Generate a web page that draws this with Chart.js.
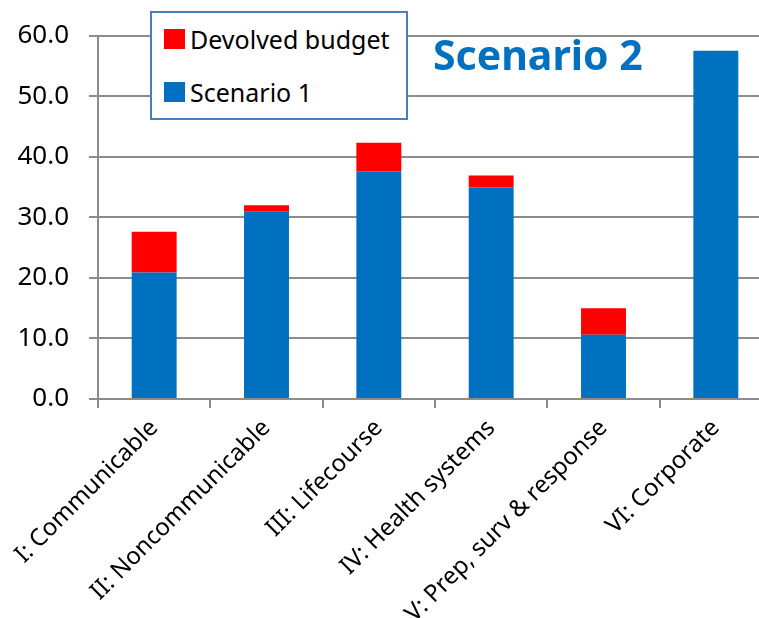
<!DOCTYPE html>
<html>
<head>
<meta charset="utf-8">
<script src="https://cdn.jsdelivr.net/npm/chart.js@4/dist/chart.umd.min.js"></script>
<style>
  html, body { margin: 0; padding: 0; background: #fff; overflow: hidden; }
  #wrap { position: relative; width: 772px; height: 618px; }
  #legend {
    position: absolute; left: 150px; top: 11px; width: 254px; height: 105px;
    border: 2px solid #4a7ebb; background: #fff;
    font-family: 'Noto Sans', sans-serif; font-size: 25px; color: #000;
  }
  .item { position: absolute; left: 12px; display: flex; align-items: center; }
  .swatch { width: 21px; height: 20px; margin-right: 5px; }
  #title {
    position: absolute; left: 433px; top: 34px; line-height: 1;
    font-family: 'Noto Sans', sans-serif; font-weight: bold; font-size: 41px; color: #0070c0;
  }
</style>
</head>
<body>
<div id="wrap">
  <canvas id="chart" width="772" height="618"></canvas>
  <div id="legend"></div>
  <div id="title">Scenario 2</div>
</div>
<script>
const categories = ['I: Communicable', 'II: Noncommunicable', 'III: Lifecourse', 'IV: Health systems', 'V: Prep, surv & response', 'VI: Corporate'];
const scenario1 = [20.9, 30.9, 37.6, 34.9, 10.6, 57.5];
const devolved = [6.7, 1.1, 4.7, 2.0, 4.4, 0];
const yTicks = [0, 10, 20, 30, 40, 50, 60];

const gridColor = '#8c8c8c';
const font = "'Noto Sans', sans-serif";

const ctx = document.getElementById('chart').getContext('2d');
const chart = new Chart(ctx, {
  type: 'bar',
  data: {
    labels: categories,
    datasets: [
      { label: 'Scenario 1', data: scenario1, backgroundColor: '#0070c0' },
      { label: 'Devolved budget', data: devolved, backgroundColor: '#ff0000' }
    ]
  },
  options: {
    responsive: false,
    animation: false,
    categoryPercentage: 1,
    barPercentage: 0.4,
    layout: { padding: { top: 35, right: 0, bottom: 0, left: 0 } },
    scales: {
      x: {
        stacked: true,
        grid: { display: true, drawOnChartArea: false, color: gridColor, lineWidth: 2, tickLength: 9 },
        border: { display: true, color: gridColor, width: 2 },
        ticks: { color: '#000', font: { family: font, size: 24 }, minRotation: 45, maxRotation: 45, padding: 6 },
        afterFit(scale) { scale.height = 219; }
      },
      y: {
        stacked: true,
        min: yTicks[0],
        max: yTicks[yTicks.length - 1],
        afterBuildTicks(scale) { scale.ticks = yTicks.map(v => ({ value: v })); },
        grid: { color: gridColor, lineWidth: 2, tickLength: 9 },
        border: { display: true, color: gridColor, width: 2 },
        ticks: { color: '#000', font: { family: font, size: 26 }, padding: 20, callback: v => v.toFixed(1) },
        afterFit(scale) { scale.width = 98; }
      }
    },
    plugins: {
      legend: { display: false },
      tooltip: { enabled: false }
    }
  }
});

// legend box drawn as html, in reverse dataset order like the original
const legend = document.getElementById('legend');
chart.data.datasets.slice().reverse().forEach((ds, i) => {
  const row = document.createElement('div');
  row.className = 'item';
  row.style.top = (i === 0 ? 9 : 62) + 'px';
  row.innerHTML = `<div class="swatch" style="background:${ds.backgroundColor}"></div><span>${ds.label}</span>`;
  legend.appendChild(row);
});
</script>
</body>
</html>
